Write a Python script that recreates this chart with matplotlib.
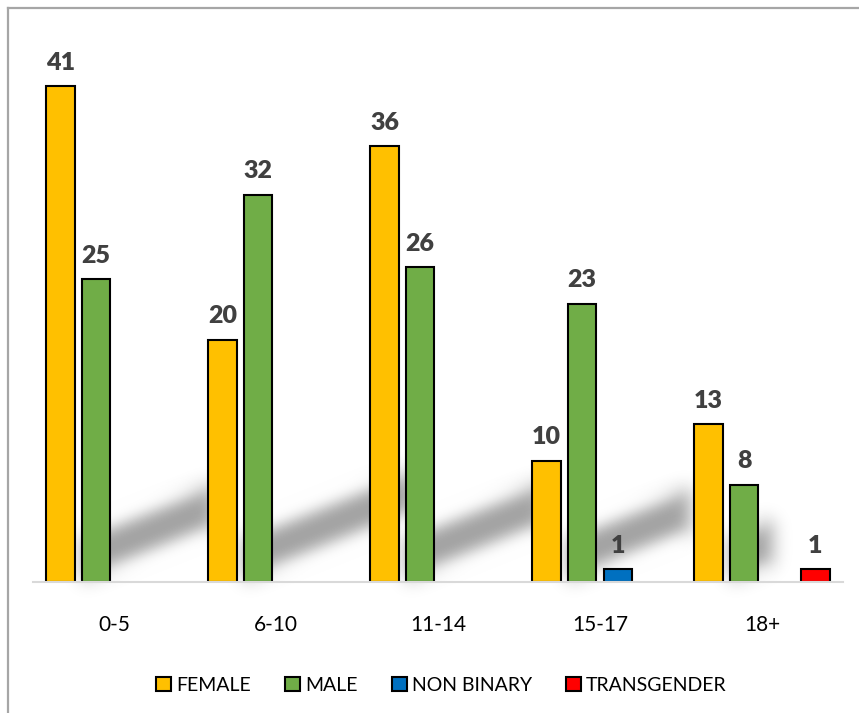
import numpy as np
import matplotlib
matplotlib.use('Agg')
import matplotlib.pyplot as plt
from matplotlib.patches import Polygon, Patch
from matplotlib.lines import Line2D

plt.rcParams['font.family'] = ['Lato', 'DejaVu Sans']

categories = ['0-5', '6-10', '11-14', '15-17', '18+']
series = ['FEMALE', 'MALE', 'NON BINARY', 'TRANSGENDER']
female = [41, 20, 36, 10, 13]
male = [25, 32, 26, 23, 8]
non_binary = [0, 0, 0, 1, 0]
transgender = [0, 0, 0, 0, 1]
colors = ['#FFC000', '#70AD47', '#0070C0', '#FF0000']


def blur(im, dpi, sigma=9):
    # soft shadow like the office "perspective shadow"
    pad = 3 * sigma
    src = np.pad(im, ((pad, pad), (pad, pad), (0, 0)))
    t = np.arange(-pad, pad + 1)
    k = np.exp(-t ** 2 / (2.0 * sigma ** 2))
    k /= k.sum()
    out = np.apply_along_axis(lambda r: np.convolve(r, k, mode='same'), 0, src)
    out = np.apply_along_axis(lambda r: np.convolve(r, k, mode='same'), 1, out)
    return out, -pad, -pad


fig = plt.figure(figsize=(8.59, 7.13), dpi=100)
ax = fig.add_axes([0.0384, 0.1844, 0.943, 0.7627])

x = np.arange(len(categories))
slot = 0.22
width = 0.176
all_vals = [female, male, non_binary, transgender]
ylim_top = 45

# pixel sizes of one data unit, used to shape the shadows
px_x = ax.get_position().width * 859 / 5.0
px_y = ax.get_position().height * 713 / ylim_top

# shadows cast by the male bars
for i, v in enumerate(male):
    x0 = x[i] - 0.5 * slot - width / 2
    L = 0.44 * v * px_y           # length in px
    dx = L / px_x
    rise = 0.4 * L / px_y
    thick = 46 / px_y
    poly = Polygon([(x0, 0), (x0 + dx, rise), (x0 + dx, rise + thick), (x0, thick)],
                   closed=True, facecolor='black', edgecolor='none',
                   alpha=0.37, zorder=1)
    poly.set_agg_filter(blur)
    poly.set_rasterized(True)
    ax.add_patch(poly)

for j, (vals, c) in enumerate(zip(all_vals, colors)):
    pos = x + (j - 1.5) * slot
    h = np.array(vals, dtype=float)
    keep = h > 0
    bars = ax.bar(pos[keep], h[keep], width=width, color=c,
                  edgecolor='black', linewidth=1.5, zorder=3)
    for b, val in zip(bars, h[keep]):
        ax.annotate(f'{int(val)}', (b.get_x() + b.get_width() / 2, val),
                    xytext=(0, 9), textcoords='offset points',
                    ha='center', va='bottom', fontsize=18,
                    fontweight='heavy', color='#404040')

ax.set_xlim(-0.5, 4.5)
ax.set_ylim(0, ylim_top)
for s in ['top', 'right', 'left']:
    ax.spines[s].set_visible(False)
ax.spines['bottom'].set_color('#d9d9d9')
ax.spines['bottom'].set_linewidth(1.5)
ax.spines['bottom'].set_zorder(4)
ax.set_yticks([])
ax.set_xticks(x)
ax.set_xticklabels(categories, fontsize=15, color='black')
ax.tick_params(axis='x', length=0, pad=24)

handles = [Patch(facecolor=c, edgecolor='black', linewidth=1.5) for c in colors]
fig.legend(handles, series, loc='center', bbox_to_anchor=(0.514, 0.039),
           ncol=4, frameon=False, fontsize=14, handlelength=0.77,
           handleheight=0.77, handletextpad=0.26, columnspacing=1.75)

# outer frame (top and left only visible)
fig.add_artist(Line2D([8 / 859, 1], [1 - 8 / 713, 1 - 8 / 713],
                      transform=fig.transFigure, color='#a6a6a6', lw=1.6))
fig.add_artist(Line2D([8 / 859, 8 / 859], [0, 1 - 8 / 713],
                      transform=fig.transFigure, color='#a6a6a6', lw=1.6))

fig.savefig('out.png', dpi=100)
